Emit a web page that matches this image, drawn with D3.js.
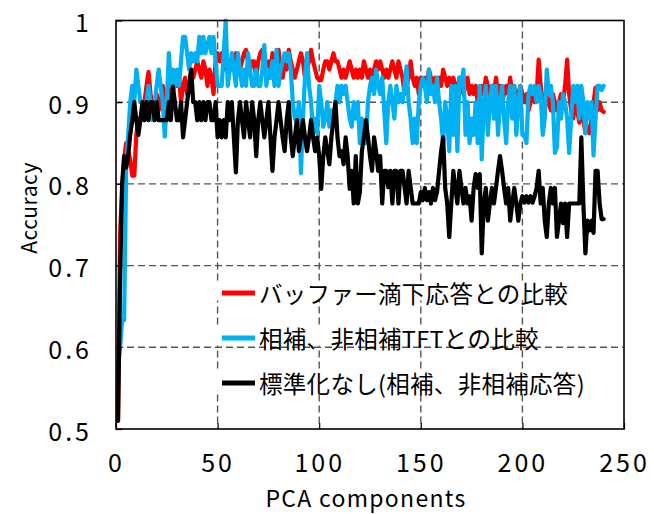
<!DOCTYPE html>
<html>
<head>
<meta charset="utf-8">
<script src="https://cdn.jsdelivr.net/npm/d3@7"></script>
<style>
  html, body { margin: 0; padding: 0; background: #fff; }
  svg { display: block; }
  text { font-family: "Noto Sans CJK JP", "Noto Sans", sans-serif; fill: #000; }
</style>
</head>
<body>
<svg id="chart" width="654" height="514"></svg>
<script>
// Accuracy vs. number of PCA components, three comparison settings
const seriesNames = [
  "バッファー滴下応答との比較",
  "相補、非相補TFTとの比較",
  "標準化なし(相補、非相補応答)"
];
const seriesColors = ["#ff0000", "#00b0f0", "#000000"];

const buffer = [
  0.51, 0.74, 0.79, 0.83, 0.85, 0.84, 0.83, 0.81, 0.81, 0.86,
  0.88, 0.88, 0.89, 0.90, 0.92, 0.937, 0.91, 0.89, 0.90, 0.91,
  0.89, 0.90, 0.92, 0.91, 0.90, 0.92, 0.90, 0.91, 0.93, 0.92,
  0.93, 0.90, 0.92, 0.93, 0.91, 0.92, 0.94, 0.93, 0.94, 0.95,
  0.94, 0.93, 0.95, 0.94, 0.92, 0.94, 0.93, 0.91, 0.95, 0.96,
  0.95, 0.96, 0.95, 0.94, 0.95, 0.95, 0.94, 0.95, 0.96, 0.95,
  0.94, 0.95, 0.96, 0.964, 0.95, 0.94, 0.95, 0.95, 0.93, 0.95,
  0.96, 0.964, 0.95, 0.94, 0.95, 0.93, 0.96, 0.95, 0.94, 0.964,
  0.94, 0.93, 0.95, 0.94, 0.964, 0.95, 0.94, 0.93, 0.94, 0.95,
  0.96, 0.95, 0.93, 0.94, 0.95, 0.964, 0.95, 0.94, 0.93, 0.927,
  0.927, 0.94, 0.95, 0.95, 0.94, 0.95, 0.96, 0.95, 0.95, 0.94,
  0.93, 0.94, 0.93, 0.94, 0.95, 0.94, 0.93, 0.94, 0.93, 0.94,
  0.93, 0.95, 0.94, 0.93, 0.94, 0.915, 0.94, 0.95, 0.94, 0.95,
  0.94, 0.93, 0.94, 0.93, 0.94, 0.95, 0.94, 0.93, 0.95, 0.94,
  0.93, 0.91, 0.92, 0.93, 0.95, 0.93, 0.92, 0.93, 0.91, 0.93,
  0.92, 0.93, 0.92, 0.94, 0.93, 0.92, 0.93, 0.92, 0.93, 0.92,
  0.94, 0.93, 0.92, 0.93, 0.92, 0.93, 0.92, 0.91, 0.93, 0.92,
  0.91, 0.92, 0.93, 0.91, 0.92, 0.91, 0.92, 0.90, 0.91, 0.92,
  0.91, 0.93, 0.92, 0.91, 0.92, 0.91, 0.93, 0.91, 0.92, 0.90,
  0.91, 0.92, 0.91, 0.93, 0.91, 0.92, 0.90, 0.91, 0.92, 0.91,
  0.90, 0.91, 0.89, 0.90, 0.91, 0.90, 0.91, 0.952, 0.92, 0.90,
  0.89, 0.91, 0.90, 0.89, 0.91, 0.90, 0.89, 0.90, 0.91, 0.90,
  0.92, 0.952, 0.91, 0.89, 0.88, 0.90, 0.89, 0.875, 0.89, 0.878,
  0.862, 0.87, 0.862, 0.88, 0.90, 0.918, 0.89, 0.90, 0.89, 0.888
];

const tft = [
  0.575, 0.60, 0.633, 0.633, 0.82, 0.86, 0.90, 0.92, 0.90, 0.94,
  0.92, 0.90, 0.90, 0.878, 0.90, 0.92, 0.90, 0.878, 0.90, 0.92,
  0.94, 0.92, 0.90, 0.858, 0.90, 0.96, 0.92, 0.94, 0.92, 0.94,
  0.92, 0.95, 0.98, 0.98, 0.96, 0.94, 0.96, 0.95, 0.96, 0.95,
  0.98, 0.96, 0.98, 0.96, 0.97, 0.98, 0.96, 0.98, 0.95, 0.92,
  0.92, 0.92, 0.96, 1.0, 0.92, 0.94, 0.96, 0.94, 0.92, 0.96,
  0.94, 0.92, 0.94, 0.92, 0.96, 0.94, 0.92, 0.92, 0.94, 0.92,
  0.92, 0.94, 0.97, 0.92, 0.94, 0.93, 0.95, 0.92, 0.964, 0.92,
  0.94, 0.95, 0.96, 0.95, 0.96, 0.94, 0.90, 0.88, 0.875, 0.90,
  0.813, 0.88, 0.93, 0.96, 0.92, 0.90, 0.862, 0.88, 0.862, 0.92,
  0.90, 0.87, 0.88, 0.90, 0.87, 0.89, 0.88, 0.90, 0.92, 0.90,
  0.92, 0.91, 0.92, 0.90, 0.88, 0.87, 0.90, 0.88, 0.90, 0.85,
  0.88, 0.86, 0.85, 0.90, 0.92, 0.93, 0.91, 0.94, 0.92, 0.91,
  0.93, 0.89, 0.85, 0.90, 0.92, 0.90, 0.88, 0.92, 0.90, 0.91,
  0.90, 0.92, 0.944, 0.90, 0.88, 0.85, 0.88, 0.85, 0.90, 0.92,
  0.93, 0.92, 0.90, 0.94, 0.91, 0.92, 0.90, 0.93, 0.90, 0.88,
  0.85, 0.90, 0.88, 0.84, 0.92, 0.86, 0.92, 0.84, 0.93, 0.92,
  0.94, 0.86, 0.90, 0.85, 0.88, 0.86, 0.90, 0.85, 0.92, 0.83,
  0.90, 0.92, 0.86, 0.90, 0.92, 0.88, 0.92, 0.86, 0.90, 0.92,
  0.88, 0.85, 0.90, 0.92, 0.88, 0.92, 0.86, 0.90, 0.92, 0.86,
  0.86, 0.85, 0.91, 0.92, 0.91, 0.92, 0.90, 0.92, 0.91, 0.86,
  0.88, 0.94, 0.91, 0.92, 0.90, 0.838, 0.845, 0.90, 0.88, 0.91,
  0.90, 0.88, 0.838, 0.88, 0.92, 0.90, 0.92, 0.88, 0.92, 0.90,
  0.862, 0.90, 0.88, 0.90, 0.835, 0.88, 0.92, 0.92, 0.915, 0.92
];

const raw = [
  0.51, 0.68, 0.80, 0.834, 0.82, 0.834, 0.86, 0.878, 0.90, 0.878,
  0.86, 0.878, 0.90, 0.878, 0.90, 0.878, 0.90, 0.90, 0.878, 0.90,
  0.878, 0.878, 0.878, 0.878, 0.878, 0.90, 0.878, 0.919, 0.90, 0.878,
  0.878, 0.90, 0.857, 0.878, 0.90, 0.919, 0.94, 0.90, 0.90, 0.878,
  0.90, 0.878, 0.90, 0.878, 0.90, 0.90, 0.878, 0.878, 0.90, 0.857,
  0.878, 0.857, 0.878, 0.857, 0.90, 0.878, 0.90, 0.857, 0.814, 0.878,
  0.90, 0.878, 0.857, 0.90, 0.878, 0.857, 0.90, 0.878, 0.834, 0.878,
  0.90, 0.878, 0.857, 0.878, 0.90, 0.857, 0.816, 0.857, 0.878, 0.90,
  0.878, 0.857, 0.84, 0.878, 0.90, 0.857, 0.834, 0.857, 0.878, 0.84,
  0.857, 0.878, 0.857, 0.84, 0.857, 0.878, 0.857, 0.84, 0.857, 0.834,
  0.794, 0.834, 0.857, 0.84, 0.824, 0.857, 0.878, 0.90, 0.857, 0.834,
  0.84, 0.824, 0.857, 0.834, 0.794, 0.816, 0.776, 0.834, 0.776, 0.79,
  0.84, 0.857, 0.878, 0.857, 0.834, 0.816, 0.857, 0.84, 0.816, 0.834,
  0.776, 0.816, 0.816, 0.796, 0.816, 0.776, 0.816, 0.816, 0.776, 0.816,
  0.816, 0.796, 0.776, 0.816, 0.796, 0.776, 0.776, 0.776, 0.776, 0.79,
  0.78, 0.795, 0.78, 0.79, 0.776, 0.795, 0.78, 0.79, 0.816, 0.84,
  0.857, 0.795, 0.776, 0.735, 0.776, 0.816, 0.795, 0.776, 0.816, 0.795,
  0.776, 0.795, 0.776, 0.785, 0.755, 0.795, 0.812, 0.795, 0.812, 0.715,
  0.776, 0.795, 0.755, 0.776, 0.795, 0.776, 0.795, 0.816, 0.834, 0.816,
  0.795, 0.776, 0.795, 0.755, 0.776, 0.795, 0.776, 0.755, 0.776, 0.785,
  0.777, 0.785, 0.777, 0.785, 0.777, 0.785, 0.795, 0.816, 0.776, 0.795,
  0.755, 0.735, 0.776, 0.795, 0.776, 0.795, 0.735, 0.755, 0.776, 0.752,
  0.776, 0.735, 0.776, 0.776, 0.776, 0.776, 0.776, 0.776, 0.857, 0.776,
  0.715, 0.755, 0.743, 0.755, 0.74, 0.816, 0.816, 0.776, 0.757, 0.757
];

const xTicks = [0, 50, 100, 150, 200, 250];
const yTicks = [0.5, 0.6, 0.7, 0.8, 0.9, 1];
const yTickLabels = ["0.5", "0.6", "0.7", "0.8", "0.9", "1"];
const xTitle = "PCA components";
const yTitle = "Accuracy";

const allSeries = [buffer, tft, raw];

const svg = d3.select("#chart");
const plot = { left: 116, right: 624, top: 20.5, bottom: 429 };

const x = d3.scaleLinear().domain([0, 250]).range([plot.left, plot.right]);
const y = d3.scaleLinear().domain([0.5, 1]).range([plot.bottom, plot.top]);

// dashed gridlines
const grid = svg.append("g").attr("stroke", "#555").attr("stroke-width", 1.4)
  .attr("stroke-dasharray", "7,4");
grid.selectAll("line.gx").data(xTicks.filter(d => d > 0 && d < 250)).join("line")
  .attr("x1", d => x(d)).attr("x2", d => x(d))
  .attr("y1", plot.top).attr("y2", plot.bottom);
grid.selectAll("line.gy").data(yTicks.filter(d => d > 0.5 && d < 1)).join("line")
  .attr("x1", plot.left).attr("x2", plot.right)
  .attr("y1", d => y(d)).attr("y2", d => y(d));

// data lines
const line = d3.line().x((d, i) => x(i + 1)).y(d => y(d));
const lines = svg.append("g");
allSeries.forEach((s, k) => {
  lines.append("path")
    .datum(s)
    .attr("d", line)
    .attr("fill", "none")
    .attr("stroke", seriesColors[k])
    .attr("stroke-width", 4.2)
    .attr("stroke-linejoin", "round")
    .attr("stroke-linecap", "round");
});

// legend entries on white bands
const legendRows = [293, 338, 383];
const legend = svg.append("g");
seriesNames.forEach((name, k) => {
  const g = legend.append("g");
  const t = g.append("text")
    .attr("x", 259).attr("y", legendRows[k])
    .attr("dominant-baseline", "central")
    .attr("font-size", 23.5)
    .attr("letter-spacing", 0.3)
    .text(name);
  const w = t.node().getComputedTextLength();
  g.insert("rect", "text")
    .attr("x", 214).attr("y", legendRows[k] - 11)
    .attr("width", 259 + w + 4 - 214).attr("height", 18.5)
    .attr("fill", "#fff");
  g.insert("line", "text")
    .attr("x1", 222).attr("x2", 255)
    .attr("y1", legendRows[k]).attr("y2", legendRows[k])
    .attr("stroke", seriesColors[k]).attr("stroke-width", 5);
});

// frame
svg.append("rect")
  .attr("x", plot.left).attr("y", plot.top)
  .attr("width", plot.right - plot.left).attr("height", plot.bottom - plot.top)
  .attr("fill", "none").attr("stroke", "#000").attr("stroke-width", 1.6);

// axes with inward ticks
const xAxis = d3.axisBottom(x).tickValues(xTicks).tickSize(-6).tickPadding(14);
const gx = svg.append("g").attr("transform", `translate(0,${plot.bottom})`).call(xAxis);
gx.select(".domain").remove();
gx.selectAll(".tick line").attr("stroke", "#000").attr("stroke-width", 1.2);
gx.selectAll(".tick text").attr("font-size", 25).attr("letter-spacing", 3)
  .attr("dy", null).attr("y", 32).attr("dominant-baseline", "central");

const yAxis = d3.axisLeft(y).tickValues(yTicks).tickSize(-6)
  .tickFormat((d, i) => yTickLabels[i]);
const gy = svg.append("g").attr("transform", `translate(${plot.left},0)`).call(yAxis);
gy.select(".domain").remove();
gy.selectAll(".tick line").attr("stroke", "#000").attr("stroke-width", 1.2);
gy.selectAll(".tick text").attr("font-size", 25).attr("letter-spacing", 3)
  .attr("x", -24).attr("dy", null).attr("dominant-baseline", "central");

// axis titles
svg.append("text")
  .attr("x", 366).attr("y", 497)
  .attr("text-anchor", "middle").attr("dominant-baseline", "central")
  .attr("font-size", 23).attr("letter-spacing", 1.3)
  .text(xTitle);
svg.append("text")
  .attr("transform", "translate(28,208) rotate(-90)")
  .attr("text-anchor", "middle").attr("dominant-baseline", "central")
  .attr("font-size", 21).attr("letter-spacing", 0.5)
  .text(yTitle);
</script>
</body>
</html>
